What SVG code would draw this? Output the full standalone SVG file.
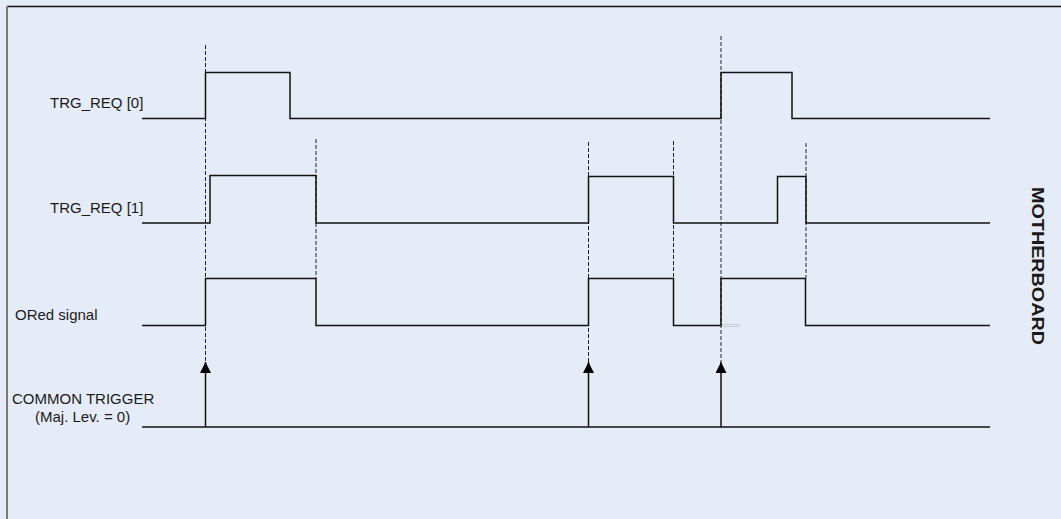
<svg xmlns="http://www.w3.org/2000/svg" width="1061" height="519" viewBox="0 0 1061 519">
<style>
.lbl{font-family:"Liberation Sans",Arial,sans-serif;font-size:15px;fill:#1a1a1a}
.sig{fill:none;stroke:#111;stroke-width:1.5}
.dash{fill:none;stroke:#222;stroke-width:1;stroke-dasharray:4 2}
.arr{fill:none;stroke:#111;stroke-width:1.5;marker-end:url(#ah)}
</style>
<defs>
<marker id="ah" markerWidth="11" markerHeight="11" refX="11" refY="5.5" orient="auto" markerUnits="userSpaceOnUse" viewBox="0 0 11 11">
<path d="M0 0 L11 5.5 L0 11 Z" fill="#000"/>
</marker>
</defs>
<rect x="0" y="0" width="1061" height="519" fill="#e6ecf7"/>
<line x1="7" y1="6.5" x2="1061" y2="6.5" stroke="#111" stroke-width="1.5"/>
<line x1="7" y1="6" x2="7" y2="519" stroke="#7a7a7a" stroke-width="2"/>
<g id="labels">
<text class="lbl" x="50" y="108">TRG_REQ [0]</text>
<text class="lbl" x="50" y="213">TRG_REQ [1]</text>
<text class="lbl" x="15" y="320">ORed signal</text>
<text class="lbl" x="12" y="404">COMMON TRIGGER</text>
<text class="lbl" x="35" y="422">(Maj. Lev. = 0)</text>
<text x="0" y="0" transform="translate(1032,187) rotate(90)" font-family="'Liberation Sans',Arial,sans-serif" font-size="16" font-weight="bold" fill="#1a1a1a" textLength="158" lengthAdjust="spacingAndGlyphs">MOTHERBOARD</text>
</g>
<g id="connectors">
<line class="dash" x1="205.5" y1="45" x2="205.5" y2="362"/>
<line class="dash" x1="316" y1="139" x2="316" y2="278"/>
<line class="dash" x1="588.5" y1="142" x2="588.5" y2="362"/>
<line class="dash" x1="673.5" y1="141" x2="673.5" y2="278"/>
<line class="dash" x1="721" y1="36" x2="721" y2="362" stroke="#555"/>
<line class="dash" x1="806" y1="143" x2="806" y2="278" stroke="#555"/>
<line class="arr" x1="205.5" y1="427" x2="205.5" y2="362"/>
<line class="arr" x1="588.5" y1="427" x2="588.5" y2="362"/>
<line class="arr" x1="721" y1="427" x2="721" y2="362"/>
</g>
<g id="trg_req0">
<path class="sig" d="M142 118.5 H205.5 V72.5 H290 V118.5 H721 V72.5 H792 V118.5 H990"/>
</g>
<g id="trg_req1">
<path class="sig" d="M142 223 H210 V175.5 H316 V223 H588.5 V176.5 H673.5 V223 H777.5 V176.5 H806 V223 H990"/>
</g>
<g id="ored">
<path class="sig" d="M142 325.5 H205.5 V278.5 H316 V325.5 H588.5 V278.5 H673.5 V325.5 H721 V278.5 H805.5 V325.5 H990"/>
<line x1="722" y1="324.5" x2="740" y2="324.5" stroke="#c8ccd4" stroke-width="1"/>
<line x1="722" y1="326.5" x2="740" y2="326.5" stroke="#c8ccd4" stroke-width="1"/>
</g>
<g id="common_trigger">
<line class="sig" x1="142" y1="427" x2="990" y2="427"/>
</g>
</svg>
